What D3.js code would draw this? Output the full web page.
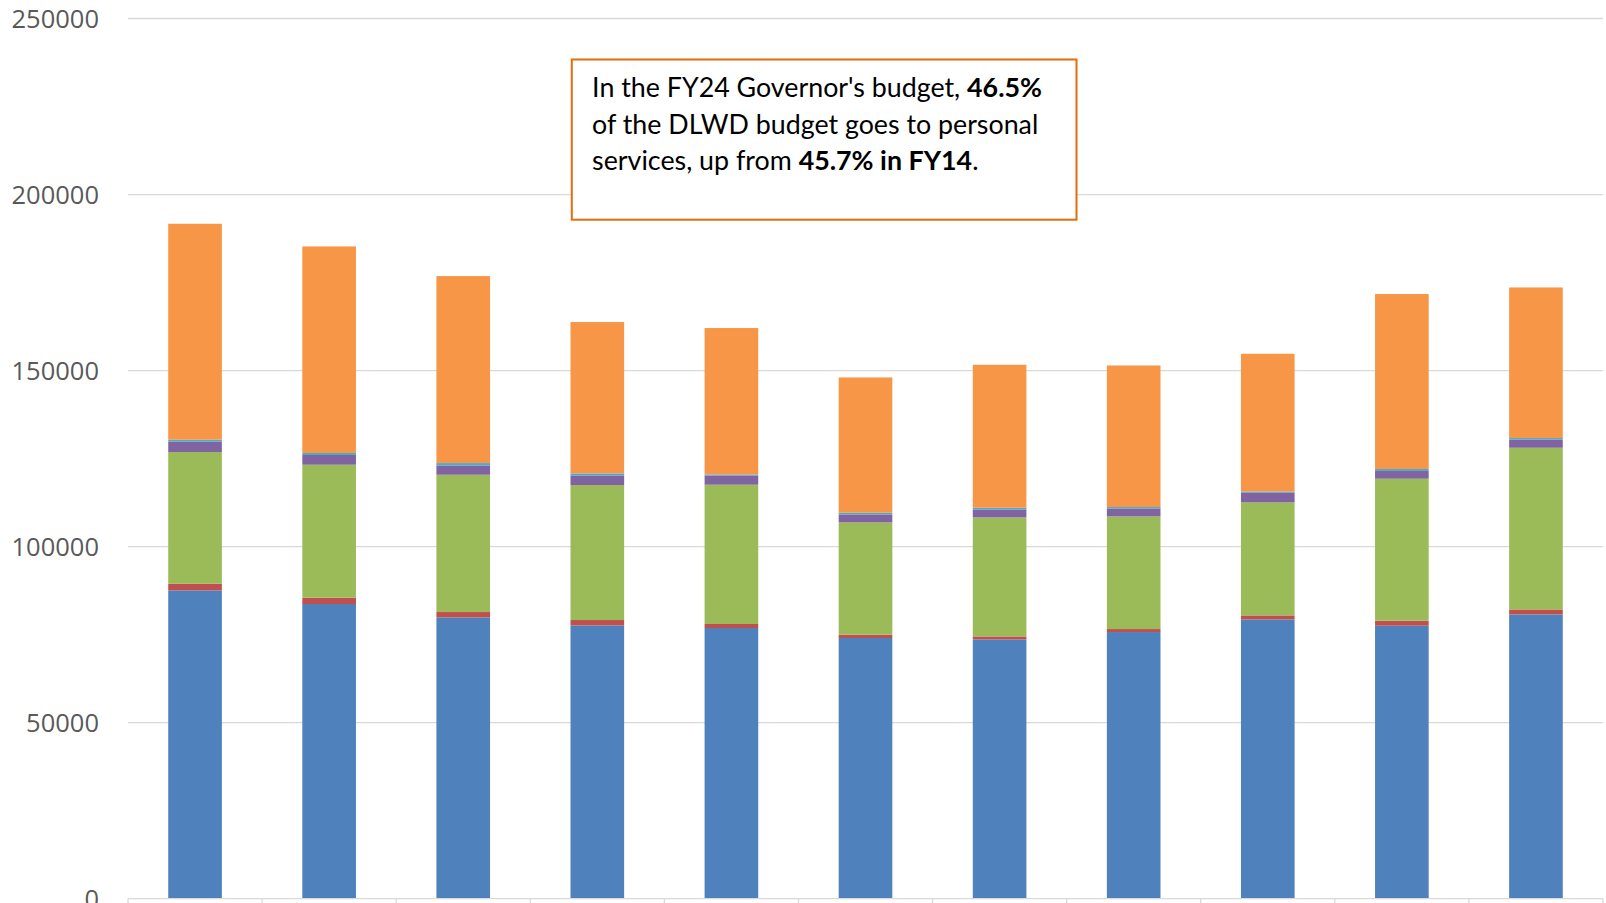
<!doctype html>
<html lang="en">
<head>
  <meta charset="utf-8">
  <title>DLWD budget by category</title>
  <style>
    body { margin: 0; background: #fff; }
    svg { display: block; }
    .tick-label {
      font-family: "Open Sans", sans-serif;
      font-size: 25.5px;
      fill: #595959;
    }
    .grid line { stroke: #d9d9d9; stroke-width: 1.3px; }
    .note {
      font-family: Lato, "Open Sans", sans-serif;
      font-size: 26.8px;
      fill: #000;
    }
  </style>
</head>
<body>
  <div id="chart"></div>
  <script src="https://cdn.jsdelivr.net/npm/d3@7"></script>
  <script>
// fiscal years, FY14 .. FY24 (governor's budget); labels fall below the cropped view
var years = ["FY14", "FY15", "FY16", "FY17", "FY18", "FY19", "FY20", "FY21", "FY22", "FY23", "FY24"];

// series values (thousands)
var personalServices = [87560, 83700, 79890, 77620, 76880, 74040, 73640, 75740, 79320, 77530, 80740];
var purchasedServices = [1900, 1790, 1530, 1530, 1140, 940, 850, 850, 1140, 1420, 1420];
var supplies = [37400, 37770, 38990, 38340, 39560, 31890, 33800, 31980, 32090, 40330, 45920];
var equipment = [2930, 2760, 2640, 2730, 2640, 2270, 2270, 2270, 2840, 2190, 2360];
var subsidies = [570, 570, 680, 570, 280, 480, 480, 400, 280, 570, 400];
var other = [61340, 58670, 53110, 43000, 41580, 38430, 40610, 40210, 39110, 49700, 42770];

var yTicks = [0, 50000, 100000, 150000, 200000, 250000];

var seriesNames = ["Personal Services", "Purchased Services", "Supplies", "Equipment", "Subsidies", "Other"];
var seriesColors = ["#4f81bd", "#c0504d", "#9bbb59", "#8064a2", "#4bacc6", "#f79646"];

(function() {
  var width = 1606, height = 903;
  var margin = {top: 18.5, right: 3, bottom: 4.3, left: 128};

  var rows = years.map(function(y, i) {
    return {
      year: y,
      "Personal Services": personalServices[i],
      "Purchased Services": purchasedServices[i],
      "Supplies": supplies[i],
      "Equipment": equipment[i],
      "Subsidies": subsidies[i],
      "Other": other[i]
    };
  });

  var svg = d3.select("#chart").append("svg")
      .attr("width", width)
      .attr("height", height);

  var x = d3.scaleBand()
      .domain(years)
      .range([margin.left, width - margin.right])
      .paddingInner(0.6)
      .paddingOuter(0.3);

  var y = d3.scaleLinear()
      .domain([0, 250000])
      .range([height - margin.bottom, margin.top]);

  // horizontal gridlines
  svg.append("g").attr("class", "grid")
    .selectAll("line").data(yTicks.slice(1)).enter()
    .append("line")
      .attr("x1", margin.left).attr("x2", width - margin.right)
      .attr("y1", function(d) { return y(d); })
      .attr("y2", function(d) { return y(d); });

  // y tick labels
  svg.append("g")
    .selectAll("text").data(yTicks).enter()
    .append("text")
      .attr("class", "tick-label")
      .attr("x", 99)
      .attr("y", function(d) { return y(d); })
      .attr("dy", "0.36em")
      .attr("text-anchor", "end")
      .text(function(d) { return d; });

  // stacked bars
  var stack = d3.stack().keys(seriesNames);
  var layers = stack(rows);
  var color = d3.scaleOrdinal().domain(seriesNames).range(seriesColors);

  svg.append("g").selectAll("g").data(layers).enter()
    .append("g")
      .attr("fill", function(d) { return color(d.key); })
    .selectAll("rect").data(function(d) { return d; }).enter()
    .append("rect")
      .attr("x", function(d) { return x(d.data.year); })
      .attr("width", x.bandwidth())
      .attr("y", function(d) { return y(d[1]); })
      .attr("height", function(d) { return y(d[0]) - y(d[1]); });

  // category axis: line plus ticks between categories
  var axis = svg.append("g").attr("class", "grid");
  axis.append("line")
      .attr("x1", margin.left).attr("x2", width - margin.right)
      .attr("y1", y(0)).attr("y2", y(0));
  var step = x.step();
  axis.selectAll(".xt").data(d3.range(years.length + 1)).enter()
    .append("line")
      .attr("x1", function(i) { return margin.left + i * step; })
      .attr("x2", function(i) { return margin.left + i * step; })
      .attr("y1", y(0)).attr("y2", y(0) + 8);

  // annotation box
  var note = svg.append("g");
  note.append("rect")
      .attr("x", 571.8).attr("y", 59.5)
      .attr("width", 504.7).attr("height", 160.2)
      .attr("fill", "#fff")
      .attr("stroke", "#e46c0a")
      .attr("stroke-width", 2);

  var lines = [
    [["In the FY24 Governor's budget, ", false], ["46.5%", true]],
    [["of the DLWD budget goes to personal", false]],
    [["services, up from ", false], ["45.7% in FY14", true], [".", false]]
  ];
  lines.forEach(function(parts, i) {
    var t = note.append("text")
        .attr("class", "note")
        .attr("x", 592.1)
        .attr("y", 97.3 + i * 36.3);
    parts.forEach(function(p) {
      t.append("tspan")
        .attr("font-weight", p[1] ? "bold" : null)
        .text(p[0]);
    });
  });
})();
  </script>
</body>
</html>
